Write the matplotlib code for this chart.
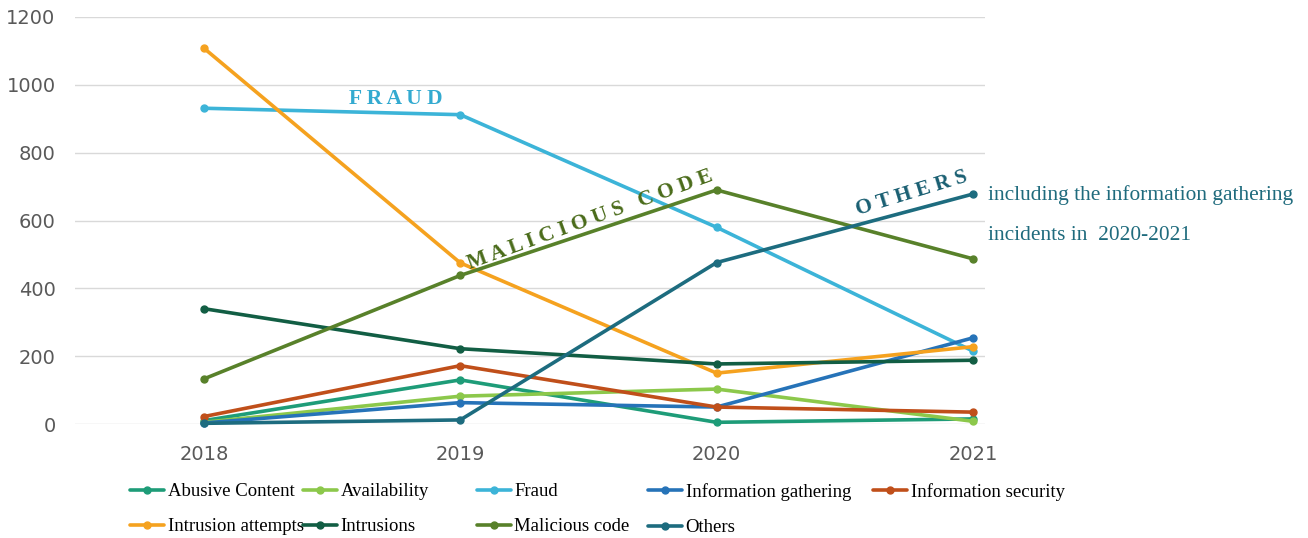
import matplotlib.pyplot as plt

years = [2018, 2019, 2020, 2021]

abusive = [10, 130, 5, 15]
availability = [5, 82, 103, 8]
fraud = [931, 912, 580, 215]
info_gathering = [3, 63, 50, 254]
info_security = [22, 172, 50, 35]
intrusion_attempts = [1108, 475, 150, 228]
intrusions = [340, 222, 177, 188]
malicious = [133, 438, 690, 487]
others = [2, 12, 476, 678]

names = ["Abusive Content", "Availability", "Fraud", "Information gathering",
         "Information security", "Intrusion attempts", "Intrusions",
         "Malicious code", "Others"]
series = [abusive, availability, fraud, info_gathering, info_security,
          intrusion_attempts, intrusions, malicious, others]
colors = ["#1e9c78", "#8cc84b", "#3cb4d8", "#2673b8", "#c04f1a",
          "#f5a21f", "#125e44", "#58812a", "#1d6c7f"]

serif = ["Liberation Serif", "DejaVu Serif"]

fig = plt.figure(figsize=(13.08, 5.38), dpi=100)
ax = fig.add_axes([75/1308, 1 - 424/538, 910/1308, 407/538])

handles = []
for name, vals, c in zip(names, series, colors):
    ln, = ax.plot(years, vals, color=c, lw=2.6, marker="o", ms=5,
                  solid_capstyle="round", clip_on=False, label=name)
    handles.append(ln)

ax.set_xlim(2017.497, 2021.047)
ax.set_ylim(0, 1200)
ax.set_xticks(years)
ax.set_yticks(range(0, 1201, 200))
ax.grid(axis="y", color="#d9d9d9", lw=1)
ax.set_axisbelow(True)
for s in ax.spines.values():
    s.set_visible(False)
ax.tick_params(length=0, labelsize=14, labelcolor="#595959")
ax.tick_params(axis="x", pad=15)
ax.tick_params(axis="y", pad=14)

# annotations on the lines
ax.text(2018.75, 958, "F R A U D", color="#33aad0", fontsize=15.5,
        fontweight="bold", family=serif, ha="center", va="center")
ax.text(2019.506, 601, "M A L I C I O U S   C O D E", color="#4a6b1a",
        fontsize=15.5, fontweight="bold", family=serif, ha="center",
        va="center", rotation=20, rotation_mode="anchor")
ax.text(2020.762, 681, "O T H E R S", color="#1a5f72", fontsize=15.5,
        fontweight="bold", family=serif, ha="center", va="center",
        rotation=17, rotation_mode="anchor")
ax.text(2021.06, 675, "including the information gathering",
        color="#1f6b7d", fontsize=15.4, family=serif, ha="left",
        va="center", clip_on=False)
ax.text(2021.06, 557, "incidents in  2020-2021",
        color="#1f6b7d", fontsize=15.4, family=serif, ha="left",
        va="center", clip_on=False)

# legend: 5 columns placed by hand
col_x = [130, 303, 477, 648, 873]
cols = [[0, 5], [1, 6], [2, 7], [3, 8], [4]]
for cx, idx in zip(col_x, cols):
    fig.legend([handles[i] for i in idx], [names[i] for i in idx],
               loc="upper left", bbox_to_anchor=(cx/1308, 1 - 483/538),
               frameon=False, borderpad=0, borderaxespad=0,
               handlelength=1.8, handletextpad=0.2, labelspacing=0.97,
               prop={"family": serif, "size": 13.5}, numpoints=1)

fig.savefig("out.png", dpi=100)
